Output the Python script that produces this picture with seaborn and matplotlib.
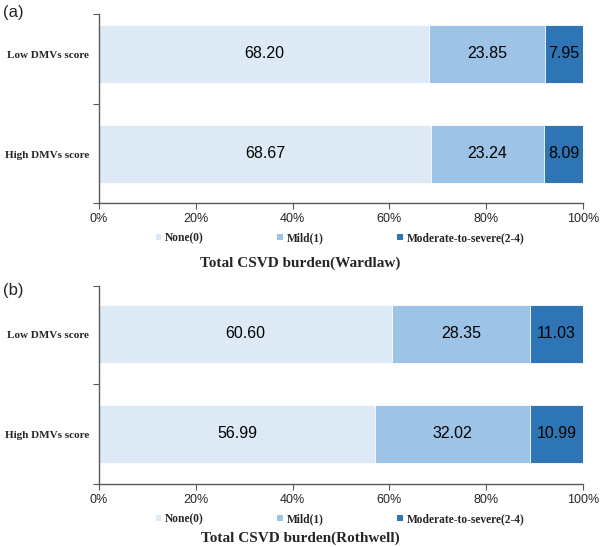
import matplotlib
matplotlib.use("Agg")
import matplotlib.pyplot as plt
from matplotlib.patches import Patch
from matplotlib.ticker import FixedLocator
import seaborn as sns
import pandas as pd
import numpy as np

groups = ["Low DMVs score", "High DMVs score"]
levels = ["None(0)", "Mild(1)", "Moderate-to-severe(2-4)"]
colors = ["#DDEAF6", "#9DC3E6", "#2E75B6"]
wardlaw_none = [68.20, 68.67]
wardlaw_mild = [23.85, 23.24]
wardlaw_mod = [7.95, 8.09]
rothwell_none = [60.60, 56.99]
rothwell_mild = [28.35, 32.02]
rothwell_mod = [11.03, 10.99]
xticks = [0, 20, 40, 60, 80, 100]
xticklabels = ["0%", "20%", "40%", "60%", "80%", "100%"]
titles = ["Total CSVD burden(Wardlaw)", "Total CSVD burden(Rothwell)"]
panel_labels = ["(a)", "(b)"]

sns.set_theme(style="white")
plt.rcParams["font.family"] = ["Liberation Sans", "DejaVu Sans"]

fig = plt.figure(figsize=(6.0, 5.47), dpi=100)
W, H = 600, 547

def px(x0, y0, x1, y1):
    return [x0 / W, 1 - y1 / H, (x1 - x0) / W, (y1 - y0) / H]

axes_pos = [px(99, 14, 583, 203), px(99, 286, 583, 484)]
ylims = [(1.49, -0.40), (1.50, -0.48)]
legend_y = [238, 519]
title_y = [263, 538]
label_y = [12, 291]

serif = ["Liberation Serif", "DejaVu Serif"]
sans = ["Liberation Sans", "DejaVu Sans"]
datasets = [(wardlaw_none, wardlaw_mild, wardlaw_mod),
            (rothwell_none, rothwell_mild, rothwell_mod)]

for i, (none, mild, mod) in enumerate(datasets):
    ax = fig.add_axes(axes_pos[i])
    none = np.array(none); mild = np.array(mild); mod = np.array(mod)
    cum = [none + mild + mod, none + mild, none]
    for c, col in zip(cum, colors[::-1]):
        df = pd.DataFrame({"group": groups, "value": c})
        sns.barplot(data=df, x="value", y="group", order=groups, color=col,
                    width=0.58, orient="h", ax=ax, edgecolor="white",
                    linewidth=0.6, saturation=1)
    starts = [np.zeros(2), none, none + mild]
    for vals, st in zip([none, mild, mod], starts):
        for j in range(2):
            ax.text(st[j] + vals[j] / 2, j, f"{vals[j]:.2f}", ha="center",
                    va="center", fontsize=11.5, color="black", family=sans)
    ax.set_xlim(0, 100)
    ax.set_ylim(*ylims[i])
    ax.set_xlabel("")
    ax.set_ylabel("")
    ax.set_xticks(xticks)
    ax.set_xticklabels(xticklabels, fontsize=9, family=sans)
    ax.set_yticks([0, 1])
    ax.set_yticklabels(groups, fontsize=8, family=serif, weight="bold")
    ax.yaxis.set_minor_locator(FixedLocator([ylims[i][1], 0.5, ylims[i][0]]))
    ax.tick_params(axis="y", which="major", length=0, pad=7)
    ax.tick_params(axis="y", which="minor", length=4, width=0.8,
                   color="#595959", left=True)
    ax.tick_params(axis="x", which="major", length=4, width=0.8,
                   color="#595959", bottom=True, pad=3.5)
    for s in ["top", "right"]:
        ax.spines[s].set_visible(False)
    for s in ["left", "bottom"]:
        ax.spines[s].set_visible(True)
        ax.spines[s].set_color("#595959")
        ax.spines[s].set_linewidth(1.0)
    handles = [Patch(facecolor=c, edgecolor="none") for c in colors]
    fig.legend(handles, levels, loc="center",
               bbox_to_anchor=(340 / W, 1 - legend_y[i] / H), ncol=3,
               frameon=False, handlelength=0.5, handleheight=0.5,
               handletextpad=0.3, columnspacing=6.4, borderpad=0,
               prop=dict(family=serif, weight="bold", size=8.3))
    fig.text(0.5, 1 - title_y[i] / H, titles[i], ha="center", va="center",
             fontsize=11, family=serif, weight="bold")
    fig.text(3 / W, 1 - label_y[i] / H, panel_labels[i], ha="left",
             va="center", fontsize=12, family=sans)

fig.savefig("out.png", dpi=100)
